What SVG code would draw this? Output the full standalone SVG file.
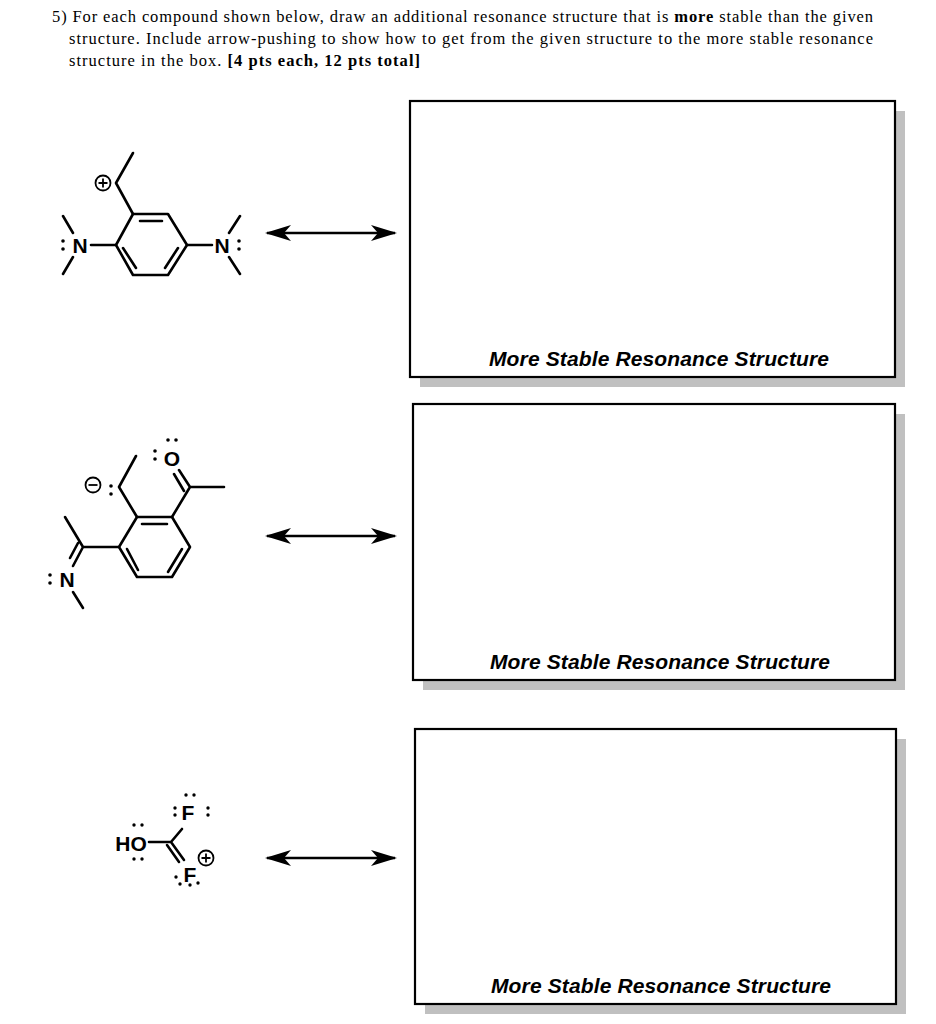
<svg xmlns="http://www.w3.org/2000/svg" width="936" height="1024" viewBox="0 0 936 1024">
<style>
.hd{font-family:"Liberation Serif",serif;font-size:16.5px;fill:#000}
.lb{font-family:"Liberation Sans",Arial,sans-serif;font-size:21px;font-weight:bold;font-style:italic;text-anchor:middle}
.at{font-family:"Liberation Sans",Arial,sans-serif;font-size:21px;font-weight:bold;text-anchor:middle}
.b{stroke:#000;stroke-width:2.6;fill:none;stroke-linecap:round;stroke-linejoin:round}
.box{fill:#fff;stroke:#000;stroke-width:2.2}
.sh{fill:#c0c0c0}
.ch{fill:none;stroke:#000;stroke-width:1.8}
.d{fill:#000}
</style>
<defs>
<marker id="ah" viewBox="0 0 26 16" refX="24" refY="8" markerWidth="26" markerHeight="16" markerUnits="userSpaceOnUse" orient="auto-start-reverse">
<path d="M0,0 L26,8 L0,16 L7,8 Z" fill="#000"/>
</marker>
</defs>
<rect width="936" height="1024" fill="#fff"/>
<text class="hd" x="52" y="22" textLength="821" lengthAdjust="spacing">5)  For each compound shown below, draw an additional resonance structure that is <tspan font-weight="bold">more</tspan> stable than the given</text>
<text class="hd" x="69" y="44" textLength="804" lengthAdjust="spacing">structure. Include arrow-pushing to show how to get from the given structure to the more stable resonance</text>
<text class="hd" x="69" y="66" textLength="351" lengthAdjust="spacing">structure in the box. <tspan font-weight="bold">[4 pts each, 12 pts total]</tspan></text>

<g id="box1"><rect class="sh" x="420" y="111" width="485" height="276"/><rect class="box" x="410" y="101" width="485" height="276"/><text class="lb" x="659" y="366" textLength="340">More Stable Resonance Structure</text></g>
<g id="box2"><rect class="sh" x="423" y="414" width="482" height="276"/><rect class="box" x="413" y="404" width="482" height="276"/><text class="lb" x="660" y="669" textLength="340">More Stable Resonance Structure</text></g>
<g id="box3"><rect class="sh" x="425" y="739" width="481" height="275"/><rect class="box" x="415" y="729" width="481" height="275"/><text class="lb" x="661" y="993" textLength="340">More Stable Resonance Structure</text></g>

<g id="connectors">
<line x1="267" y1="233" x2="395" y2="233" stroke="#000" stroke-width="2.4" marker-start="url(#ah)" marker-end="url(#ah)"/>
<line x1="267" y1="536" x2="395" y2="536" stroke="#000" stroke-width="2.4" marker-start="url(#ah)" marker-end="url(#ah)"/>
<line x1="267" y1="858" x2="395" y2="858" stroke="#000" stroke-width="2.4" marker-start="url(#ah)" marker-end="url(#ah)"/>
</g>

<g id="mol1">
<path class="b" d="M133,214 L168,214 L187,245 L168,275 L133,275 L116,245 Z"/>
<path class="b" d="M140,221 L162,221 M178,248 L165,268 M123,248 L136,268"/>
<path class="b" d="M133,214 L116,183 L133,153"/>
<circle class="ch" cx="103" cy="183" r="7.5"/><path class="ch" d="M98.5,183 H107.5 M103,178.5 V187.5"/>
<path class="b" d="M116,245 L91,245 M73,233 L63,216 M73,257 L63,274"/>
<text class="at" x="80" y="253">N</text>
<circle class="d" cx="63" cy="241" r="1.8"/><circle class="d" cx="63" cy="249" r="1.8"/>
<path class="b" d="M187,245 L212,245 M229,233 L240,216 M229,257 L240,274"/>
<text class="at" x="222" y="253">N</text>
<circle class="d" cx="239" cy="241" r="1.8"/><circle class="d" cx="239" cy="249" r="1.8"/>
</g>

<g id="mol2">
<path class="b" d="M137,517 L172,517 L190,547 L172,577 L137,577 L119,547 Z"/>
<path class="b" d="M142,524 L167,524 M182,549 L168,572 M127,549 L138,570"/>
<path class="b" d="M137,517 L119,487 L136,456"/>
<circle class="ch" cx="93" cy="485" r="7.5"/><path class="ch" d="M88.5,485 H97.5"/>
<circle class="d" cx="111" cy="486" r="1.8"/><circle class="d" cx="111" cy="494" r="1.8"/>
<path class="b" d="M172,517 L190,487 L224,487 M190,487 L179,470 M184,491 L174,474"/>
<text class="at" x="172" y="466">O</text>
<circle class="d" cx="155" cy="451" r="1.8"/><circle class="d" cx="155" cy="459" r="1.8"/>
<circle class="d" cx="168" cy="440" r="1.8"/><circle class="d" cx="176" cy="440" r="1.8"/>
<path class="b" d="M119,547 L83,547 L65,517 M83,547 L73,566 M78,543 L70,558"/>
<text class="at" x="67" y="587">N</text>
<circle class="d" cx="50" cy="575" r="1.8"/><circle class="d" cx="50" cy="583" r="1.8"/>
<path class="b" d="M73,592 L83,608"/>
</g>

<g id="mol3">
<text class="at" x="131" y="851">HO</text>
<circle class="d" cx="134" cy="825" r="1.7"/><circle class="d" cx="142" cy="825" r="1.7"/>
<circle class="d" cx="134" cy="859" r="1.7"/><circle class="d" cx="142" cy="859" r="1.7"/>
<path class="b" d="M149,842 L171,842 L182,829 M171,842 L184,860 M167,845 L179,862"/>
<text class="at" x="188" y="820">F</text>
<circle class="d" cx="186" cy="795" r="1.7"/><circle class="d" cx="194" cy="795" r="1.7"/>
<circle class="d" cx="175" cy="808" r="1.7"/><circle class="d" cx="175" cy="815" r="1.7"/>
<circle class="d" cx="208" cy="808" r="1.7"/><circle class="d" cx="208" cy="815" r="1.7"/>
<text class="at" x="190" y="882">F</text>
<circle class="d" cx="176" cy="877" r="1.7"/><circle class="d" cx="180" cy="884" r="1.7"/>
<circle class="d" cx="190" cy="885" r="1.7"/><circle class="d" cx="198" cy="883" r="1.7"/>
<circle class="ch" cx="206" cy="858" r="7.5"/><path class="ch" d="M201.5,858 H210.5 M206,853.5 V862.5"/>
</g>
</svg>
